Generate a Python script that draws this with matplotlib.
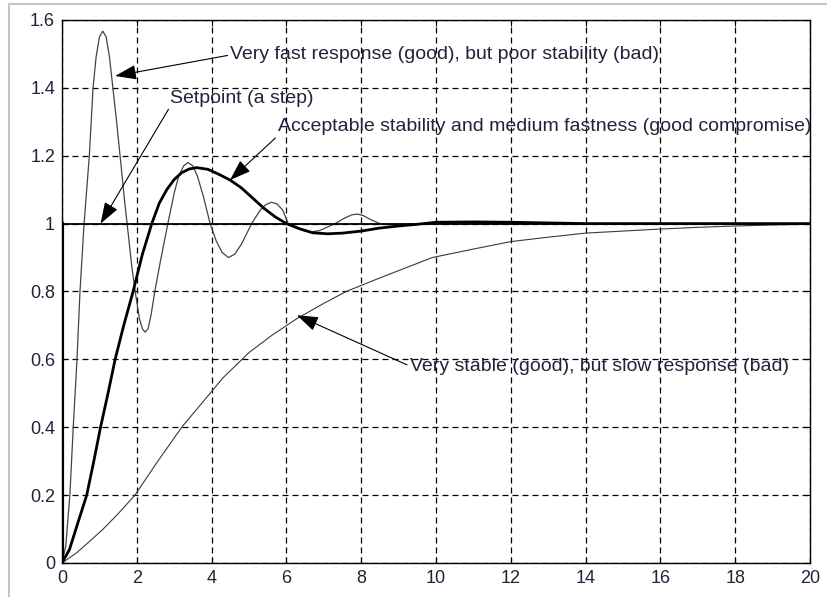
import matplotlib
matplotlib.use("Agg")
import matplotlib.pyplot as plt
from matplotlib.lines import Line2D

plt.rcParams['font.family'] = ['Liberation Sans', 'DejaVu Sans']

# setpoint (a step)
t_set = [0, 0, 20]
v_set = [0, 1, 1]

# very fast response, poor stability
t_fast = [0, 0.1, 0.21, 0.3, 0.4, 0.48, 0.59, 0.73, 0.83, 0.91, 1.0, 1.09, 1.18, 1.27, 1.36,
          1.46, 1.57, 1.67, 1.77, 1.87, 1.97, 2.07, 2.15, 2.22, 2.3, 2.38, 2.48, 2.65,
          2.83, 3.0, 3.12, 3.25, 3.37, 3.5, 3.62, 3.78, 3.96, 4.12, 4.28, 4.45, 4.62,
          4.8, 5.07, 5.3, 5.45, 5.6, 5.75, 5.9, 6.05, 6.3, 6.5, 6.7, 6.9, 7.1, 7.3,
          7.55, 7.75, 7.9, 8.05, 8.25, 8.5, 8.9, 9.4, 10, 12, 14, 16, 18, 20]
v_fast = [0, 0.05, 0.2, 0.4, 0.6, 0.8, 1.0, 1.2, 1.4, 1.49, 1.55, 1.567, 1.55, 1.49, 1.4,
          1.3, 1.18, 1.07, 0.97, 0.87, 0.79, 0.72, 0.69, 0.68, 0.69, 0.73, 0.8, 0.9,
          1.0, 1.09, 1.14, 1.17, 1.18, 1.17, 1.14, 1.08, 1.0, 0.95, 0.915, 0.90, 0.91,
          0.94, 1.0, 1.04, 1.056, 1.063, 1.058, 1.04, 1.0, 0.985, 0.978, 0.976, 0.98, 0.99, 1.0,
          1.016, 1.026, 1.028, 1.024, 1.012, 1.0, 0.995, 0.997, 1.0, 1.0, 1.0, 1.0, 1.0, 1.0]

# acceptable stability, medium fastness
t_med = [0, 0.2, 0.4, 0.66, 0.85, 1.03, 1.23, 1.42, 1.65, 1.9, 2.15, 2.4, 2.6,
         2.8, 3.0, 3.2, 3.4, 3.6, 3.9, 4.2, 4.5, 4.8, 5.1, 5.4, 5.7, 6.0,
         6.35, 6.7, 7.1, 7.5, 8.0, 8.5, 9.0, 9.5, 10, 11, 12, 13, 14, 16, 18, 20]
v_med = [0, 0.04, 0.11, 0.2, 0.3, 0.4, 0.5, 0.6, 0.7, 0.8, 0.91, 1.0, 1.06,
         1.1, 1.13, 1.15, 1.161, 1.165, 1.16, 1.145, 1.128, 1.105, 1.075, 1.045, 1.02, 1.0,
         0.985, 0.973, 0.97, 0.972, 0.978, 0.987, 0.993, 0.998, 1.004, 1.005, 1.004, 1.002, 1.0, 1.0, 1.0, 1.0]

# very stable, slow response
t_slow = [0, 0.39, 0.7, 1.1, 1.5, 1.95, 2.5, 3.2, 3.96, 4.3, 5.0, 5.6, 6.28, 7.0,
          7.6, 8.5, 9.9, 11, 12, 13, 14, 15, 16, 17, 18, 19, 20]
v_slow = [0, 0.03, 0.06, 0.1, 0.145, 0.2, 0.29, 0.4, 0.5, 0.545, 0.62, 0.67, 0.72, 0.765,
          0.80, 0.84, 0.90, 0.925, 0.947, 0.96, 0.972, 0.978, 0.984, 0.989, 0.993, 0.996, 0.998]

fig = plt.figure(figsize=(8.27, 5.97), dpi=100)
ax = fig.add_axes([0.075, 0.057, 0.9044, 0.9095])

ax.plot(t_slow, v_slow, color='#3a3a3a', lw=0.8)
ax.plot(t_fast, v_fast, color='#444444', lw=0.9)
ax.plot(t_med, v_med, color='black', lw=2.0)
ax.plot(t_set[1:], v_set[1:], color='black', lw=1.3)
ax.plot(t_set[:2], v_set[:2], color='black', lw=3.0)

ax.set_xlim(0, 20)
ax.set_ylim(0, 1.6)
ax.set_xticks(range(0, 21, 2))
ax.set_yticks([0, 0.2, 0.4, 0.6, 0.8, 1, 1.2, 1.4, 1.6])
ax.set_yticklabels(['0', '0.2', '0.4', '0.6', '0.8', '1', '1.2', '1.4', '1.6'])
ax.grid(True, color='black', linestyle=(0, (4.8, 3.2)), linewidth=0.9)
ax.tick_params(direction='in', length=4, top=True, right=True, labelsize=13,
               labelcolor='#22223a', pad=5)
for s in ax.spines.values():
    s.set_linewidth(1.0)

arrow = dict(arrowstyle='-|>,head_length=1.1,head_width=0.38', color='black',
             lw=0.8, mutation_scale=12, shrinkA=0, shrinkB=0)
txt = dict(fontsize=14, color='#22223a', ha='left', va='center')

ax.annotate("Very fast response (good), but poor stability (bad)",
            xy=(1.42, 1.435), xytext=(4.5, 1.497),
            arrowprops=dict(arrow, relpos=(0, 0.5)), **txt)
ax.annotate("Setpoint (a step)",
            xy=(1.03, 1.0), xytext=(2.89, 1.37),
            arrowprops=dict(arrow, relpos=(0, 0)), **txt)
ax.annotate("Acceptable stability and medium fastness (good compromise)",
            xy=(4.49, 1.128), xytext=(5.78, 1.285),
            arrowprops=dict(arrow, relpos=(0, 0)), **txt)
ax.annotate("Very stable (good), but slow response (bad)",
            xy=(6.28, 0.73), xytext=(9.3, 0.58),
            arrowprops=dict(arrow, relpos=(0, 0.5)), **txt)

# light frame of the source screenshot
fig.add_artist(Line2D([9 / 827, 1], [1 - 4 / 597, 1 - 4 / 597],
                      transform=fig.transFigure, color='#c4c4c4', lw=1.5))
fig.add_artist(Line2D([9 / 827, 9 / 827], [0, 1 - 4 / 597],
                      transform=fig.transFigure, color='#c4c4c4', lw=1.5))

fig.savefig("out.png", dpi=100)
